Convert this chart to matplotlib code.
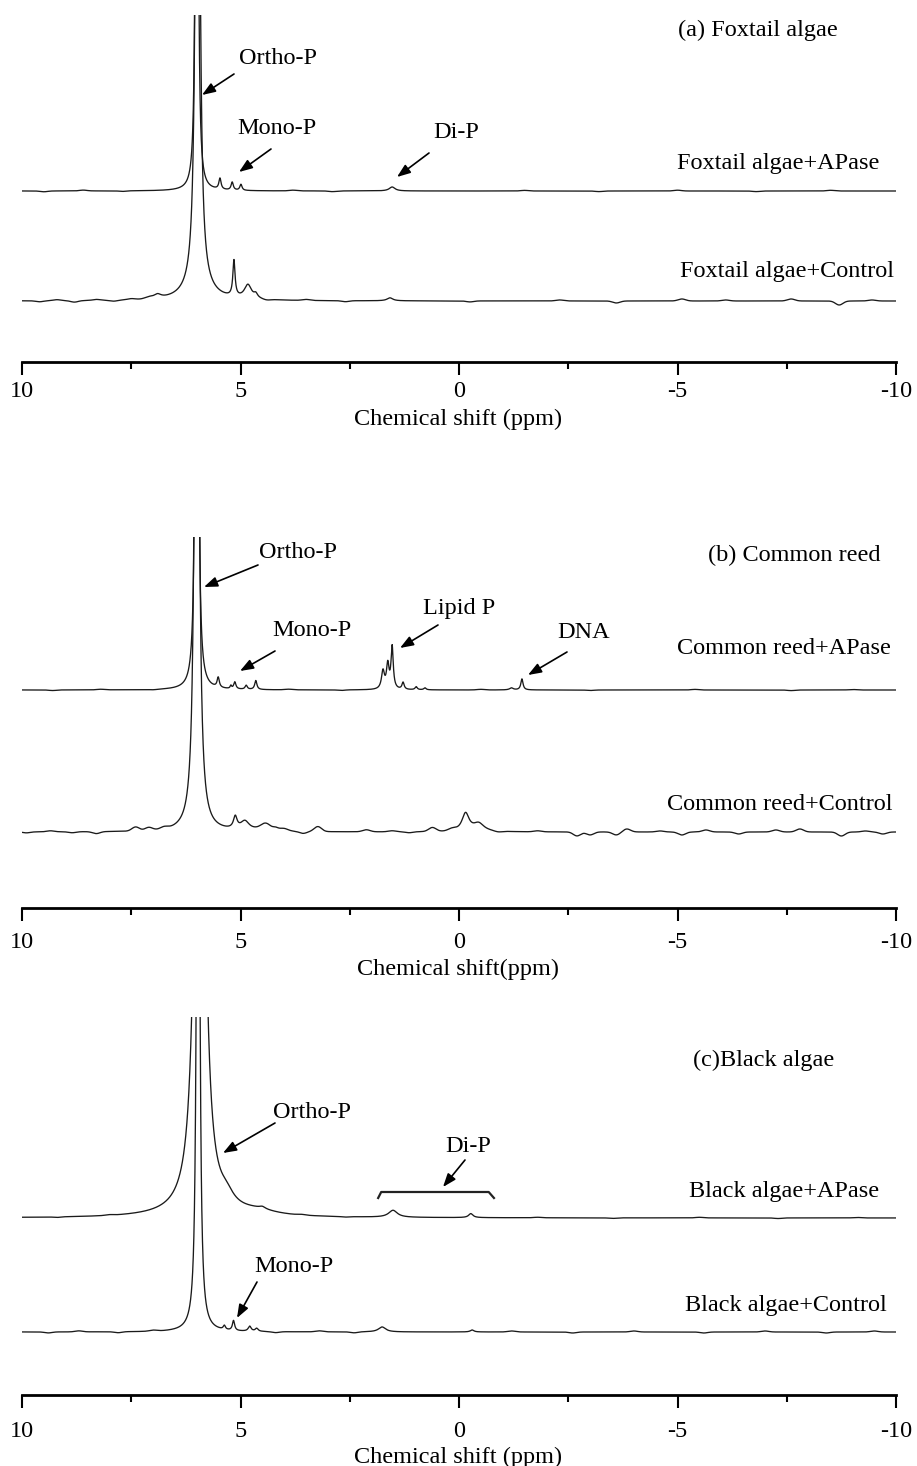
import numpy as np
import matplotlib
matplotlib.use('Agg')
from matplotlib import pyplot as plt
import matplotlib.patches as mpatches

plt.rcParams['font.family'] = ['Liberation Serif', 'DejaVu Serif']

W, H = 917, 1466

# peaks: (ppm, height, half width)  -- heights in px above the trace baseline
a_apase_peaks = [(6.0, 1400, 0.02), (5.47, 11, 0.03), (5.19, 8, 0.03), (4.99, 6, 0.03), (1.53, 4, 0.08)]
a_control_peaks = [(5.98, 930, 0.044), (5.95, 10, 0.35), (5.15, 36, 0.03), (4.83, 14, 0.1),
                   (4.65, 4, 0.05), (1.58, 3, 0.08), (6.9, 4, 0.1)]
b_apase_peaks = [(6.0, 1200, 0.025), (5.51, 10, 0.03), (5.22, 3, 0.02), (5.13, 7, 0.03), (4.87, 4, 0.03),
                 (4.65, 9, 0.03), (1.74, 18, 0.04), (1.63, 24, 0.035), (1.53, 42, 0.03), (1.28, 7, 0.03),
                 (0.98, 3, 0.03), (0.78, 2, 0.03), (-1.2, 2, 0.05), (-1.44, 11, 0.03)]
b_control_peaks = [(6.0, 1000, 0.045), (5.12, 12, 0.05), (4.9, 9, 0.12), (4.5, 4, 0.15), (4.2, 3, 0.1),
                   (-0.15, 18, 0.1), (-0.45, 8, 0.15)]
c_apase_peaks = [(5.93, 900, 0.1), (5.32, 10, 0.2), (4.6, 4, 0.5), (5.93, 3, 1.0), (4.5, 2, 0.08),
                 (1.51, 7, 0.12), (-0.27, 4, 0.06)]
c_control_peaks = [(5.97, 1100, 0.03), (5.37, 4, 0.03), (5.16, 10, 0.03), (4.79, 5, 0.04), (4.63, 3, 0.04),
                   (1.76, 5, 0.1), (-0.3, 2, 0.05)]

# baseline wiggles: (ppm, height)
a_apase_ripple = [(9.5, -0.8), (8.6, 0.8), (7.7, -0.6), (3.8, 0.7), (2.9, -0.7), (-1.5, 0.6),
                  (-3.2, -0.6), (-5.0, 0.8), (-6.8, -0.6), (-8.5, 0.7)]
a_control_ripple = [(9.6, -1), (9.2, 1), (8.8, -1.5), (8.3, 1), (7.9, -1), (7.5, 1), (7.1, 1.5),
                    (4.4, -1), (3.5, 1), (2.6, -1), (-0.25, -1), (-2.3, 1), (-3.6, -2), (-5.1, 2),
                    (-6.1, 1), (-7.6, 2), (-8.7, -4), (-9.45, 1)]
b_apase_ripple = [(9.3, -0.6), (8.2, 0.6), (7.0, -0.5), (3.9, 0.6), (2.7, -0.6), (-0.5, 0.6),
                  (-3.0, -0.5), (-5.4, 0.6), (-7.6, -0.6), (-9.0, 0.5)]
b_control_ripple = [(9.9, -1), (9.35, 1), (8.85, -1), (8.3, -2), (7.4, 4), (7.1, 3), (6.75, 2),
                    (4.4, 4), (4.0, 2), (3.57, -2), (3.23, 5), (2.12, 2), (1.53, 1), (1.14, -1),
                    (0.61, 4), (0.16, 2), (-0.9, -1), (-1.8, 1), (-2.7, -4), (-3.0, -3), (-3.6, -3),
                    (-3.84, 3), (-4.6, 1), (-5.1, -3), (-5.65, 2), (-6.4, -2), (-7.25, 2), (-7.8, 3),
                    (-8.75, -4), (-9.3, 1), (-9.7, -2)]
c_apase_ripple = [(9.2, -0.6), (8.0, 0.6), (3.6, 0.6), (2.6, -0.5), (-1.8, 0.5), (-3.5, -0.6),
                  (-5.5, 0.6), (-7.3, -0.6), (-9.1, 0.5)]
c_control_ripple = [(9.4, -1), (8.7, 1), (7.8, -1), (7.0, 1), (4.2, -1), (3.2, 1), (2.4, -1),
                    (-1.2, 1), (-2.6, -1), (-4.0, 1), (-5.6, -1), (-7.0, 1), (-8.4, -1), (-9.5, 1)]

tick_pos = [10, 5, 0, -5, -10]
tick_text = ['10', '5', '0', '-5', '-10']
minor_pos = [7.5, 2.5, -2.5, -7.5]

ppm = np.linspace(10, -10, 8001)


def spectrum(peaks, ripple):
    y = np.zeros_like(ppm)
    for c, h, w in peaks:
        y += h * w**2 / ((ppm - c)**2 + w**2)
    for c, h in ripple:
        y += h * np.exp(-((ppm - c) / 0.12)**2)
    return y


def px(x, y):
    return (x / W, 1 - y / H)


fig = plt.figure(figsize=(W / 100, H / 100), dpi=100)

# (top px, spine px, baseline offsets, traces, tick pad, xlabel, xlabel y)
panels = [
    (15, 362, [(171, a_apase_peaks, a_apase_ripple), (61, a_control_peaks, a_control_ripple)],
     4, 'Chemical shift (ppm)', 419),
    (537, 908, [(218, b_apase_peaks, b_apase_ripple), (76, b_control_peaks, b_control_ripple)],
     7.5, 'Chemical shift(ppm)', 969),
    (1017, 1395, [(177, c_apase_peaks, c_apase_ripple), (63, c_control_peaks, c_control_ripple)],
     9.5, 'Chemical shift (ppm)', 1457),
]

axes = []
for top, spine, traces, pad, xlab, xlab_y in panels:
    ax = fig.add_axes([22 / W, 1 - spine / H, 874 / W, (spine - top) / H])
    for off, pk, rp in traces:
        ax.plot(ppm, off + spectrum(pk, rp), color='#1a1a1a', lw=0.95)
    ax.set_xlim(10, -10)
    ax.set_ylim(0, spine - top)
    for s in ['top', 'left', 'right']:
        ax.spines[s].set_visible(False)
    ax.spines['bottom'].set_linewidth(2.0)
    ax.set_yticks([])
    ax.set_xticks(tick_pos)
    ax.set_xticklabels(tick_text, fontsize=17.5)
    ax.set_xticks(minor_pos, minor=True)
    ax.tick_params(axis='x', which='major', direction='out', length=9.5, width=1.5, pad=pad)
    ax.tick_params(axis='x', which='minor', direction='out', length=5, width=1.5)
    ax.patch.set_alpha(0)
    fig.text(*px(458, xlab_y), xlab, ha='center', va='center', fontsize=17.5)
    axes.append(ax)

labels = [
    (678, 30, '(a) Foxtail algae'), (677, 164, 'Foxtail algae+APase'), (680, 272, 'Foxtail algae+Control'),
    (239, 59, 'Ortho-P'), (237, 129, 'Mono-P'), (433, 133, 'Di-P'),
    (708, 555, '(b) Common reed'), (677, 649, 'Common reed+APase'), (667, 804, 'Common reed+Control'),
    (259, 553, 'Ortho-P'), (272, 631, 'Mono-P'), (423, 608, 'Lipid P'), (557, 632, 'DNA'),
    (693, 1060, '(c)Black algae'), (689, 1191, 'Black algae+APase'), (685, 1306, 'Black algae+Control'),
    (273, 1113, 'Ortho-P'), (445, 1147, 'Di-P'), (254, 1267, 'Mono-P'),
]
for x, y, s in labels:
    fig.text(*px(x, y), s, ha='left', va='center', fontsize=17.5)

arrows = [
    ((234, 74), (202, 95)), ((271, 149), (239, 172)), ((429, 153), (397, 177)),
    ((258, 565), (204, 587)), ((275, 651), (240, 671)), ((438, 625), (400, 648)), ((567, 652), (528, 675)),
    ((275, 1123), (223, 1153)), ((465, 1160), (443, 1187)), ((257, 1282), (237, 1318)),
]
for (x0, y0), (x1, y1) in arrows:
    fig.add_artist(mpatches.FancyArrowPatch(px(x0, y0), px(x1, y1), transform=fig.transFigure,
                                            arrowstyle='-|>,head_length=8,head_width=3',
                                            mutation_scale=1, lw=1.2, color='black',
                                            shrinkA=0, shrinkB=0))

# bracket over the Di-P region in panel c
axes[2].plot([1.85, 1.78, -0.68, -0.8], [197, 203, 203, 197], color='#222222', lw=1.6, clip_on=False)

fig.savefig('out.png', dpi=100)
